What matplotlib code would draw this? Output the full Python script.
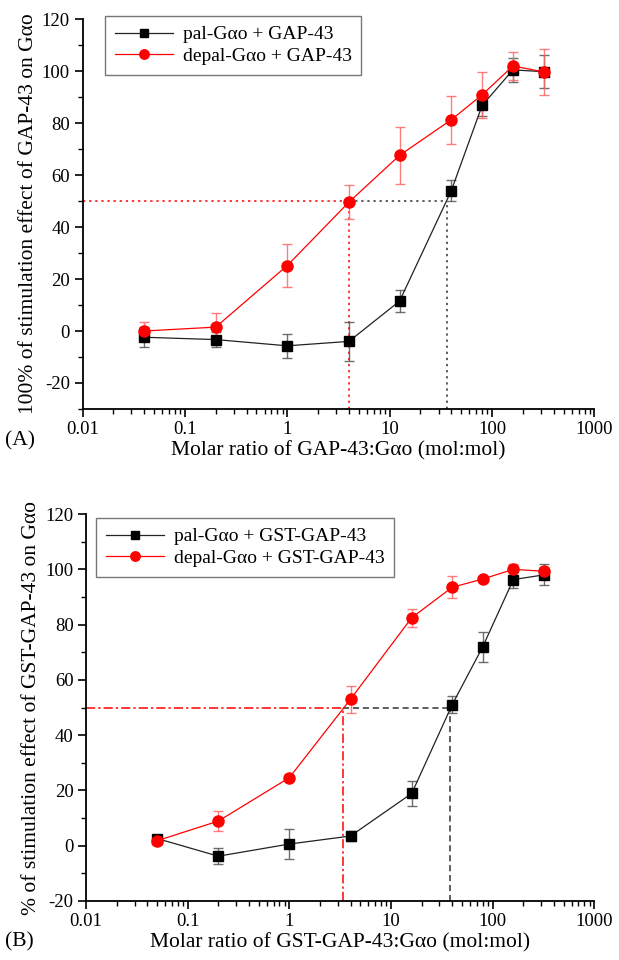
import matplotlib
matplotlib.use("Agg")
import matplotlib.pyplot as plt
from matplotlib.ticker import LogLocator, NullFormatter, MultipleLocator, FixedLocator, FixedFormatter

plt.rcParams['font.family'] = ['Liberation Serif', 'DejaVu Serif']
plt.rcParams['axes.unicode_minus'] = False

# ---------------- Panel A data ----------------
xA = [0.04, 0.2, 1, 4, 12.5, 40, 80, 160, 320]
palA = [-2.4, -3.3, -5.7, -4.0, 11.5, 54.0, 86.8, 100.5, 99.8]
palA_err = [3.8, 3.0, 4.6, 7.6, 4.2, 4.0, 4.0, 4.6, 6.3]
depalA = [0.0, 1.5, 25.2, 49.6, 67.6, 81.3, 90.9, 102.0, 99.7]
depalA_err = [3.4, 5.3, 8.2, 6.4, 10.9, 9.3, 8.8, 5.5, 9.0]
halfA_depal_x = 4.0
halfA_pal_x = 36.0
half_y = 50

# ---------------- Panel B data ----------------
xB = [0.05, 0.2, 1, 4, 16, 40, 80, 160, 320]
palB = [2.6, -3.8, 0.6, 3.5, 18.9, 51.0, 72.0, 96.3, 98.0]
palB_err = [1.0, 3.0, 5.3, 1.8, 4.5, 3.0, 5.4, 2.9, 3.8]
depalB = [1.8, 8.9, 24.6, 53.0, 82.5, 93.5, 96.5, 100.0, 99.3]
depalB_err = [1.7, 3.6, 1.0, 4.9, 3.2, 4.0, 1.0, 2.0, 1.5]
halfB_depal_x = 3.4
halfB_pal_x = 38.3

xticks = [0.01, 0.1, 1, 10, 100, 1000]
xticklabels = ['0.01', '0.1', '1', '10', '100', '1000']
yticks = [-20, 0, 20, 40, 60, 80, 100, 120]

fig = plt.figure(figsize=(6.19, 9.6), dpi=100)
axA = fig.add_axes([0.1333, 0.574, 0.827, 0.406])
axB = fig.add_axes([0.139, 0.0615, 0.821, 0.403])

BLACK_LINE = '#222222'
RED = '#ff0000'
LABEL_FS = 15.5
TICK_FS = 13.5
LEG_FS = 14


def style(ax, ylim):
    ax.set_xscale('log')
    ax.set_xlim(0.01, 1000)
    ax.set_ylim(*ylim)
    for s in ['top', 'right']:
        ax.spines[s].set_visible(False)
    for s in ['left', 'bottom']:
        ax.spines[s].set_linewidth(1.3)
    ax.xaxis.set_major_locator(FixedLocator(xticks))
    ax.xaxis.set_major_formatter(FixedFormatter(xticklabels))
    ax.xaxis.set_minor_locator(LogLocator(base=10, subs=range(2, 10), numticks=20))
    ax.xaxis.set_minor_formatter(NullFormatter())
    ax.yaxis.set_major_locator(FixedLocator(yticks))
    ax.yaxis.set_minor_locator(MultipleLocator(10))
    ax.tick_params(which='major', direction='out', length=6, width=1.2, labelsize=TICK_FS, pad=3)
    ax.tick_params(which='minor', direction='out', length=3.5, width=1.0)


def draw(ax, x, pal, pal_err, depal, depal_err, lab1, lab2):
    ax.errorbar(x, pal, yerr=pal_err, fmt='none', ecolor='#555555', elinewidth=1.0,
                capsize=3.5, capthick=1.0, alpha=0.85, zorder=3)
    ax.errorbar(x, depal, yerr=depal_err, fmt='none', ecolor='#ff6666', elinewidth=1.0,
                capsize=3.5, capthick=1.0, alpha=0.85, zorder=3)
    ax.plot(x, pal, color=BLACK_LINE, lw=0.9, marker='s', ms=7, mfc='black', mec='black',
            label=lab1, zorder=4)
    ax.plot(x, depal, color=RED, lw=0.9, marker='o', ms=8, mfc=RED, mec=RED,
            label=lab2, zorder=5)


def legend(ax, anchor):
    leg = ax.legend(loc='upper left', bbox_to_anchor=anchor, bbox_transform=fig.transFigure,
                    borderaxespad=0, fontsize=LEG_FS, frameon=True, fancybox=False,
                    edgecolor='#555555', handlelength=3.0, handletextpad=0.5,
                    borderpad=0.5, labelspacing=0.2, markerscale=0.85)
    leg.get_frame().set_linewidth(1.0)
    return leg


# ---- Panel A ----
style(axA, (-30, 120))
draw(axA, xA, palA, palA_err, depalA, depalA_err,
     'pal-Gαo + GAP-43', 'depal-Gαo + GAP-43')
axA.plot([0.01, halfA_depal_x], [half_y, half_y], color=RED, ls=(0, (1.5, 2.5)), lw=1.1, zorder=2)
axA.plot([halfA_depal_x, halfA_depal_x], [-30, half_y], color=RED, ls=(0, (1.5, 2.5)), lw=1.1, zorder=2)
axA.plot([halfA_depal_x, halfA_pal_x], [half_y, half_y], color='#333333', ls=(0, (1.5, 2.5)), lw=1.1, zorder=2)
axA.plot([halfA_pal_x, halfA_pal_x], [-30, half_y], color='#333333', ls=(0, (1.5, 2.5)), lw=1.1, zorder=2)
axA.set_ylabel('100% of stimulation effect of GAP-43 on Gαo', fontsize=LABEL_FS, labelpad=3)
axA.set_xlabel('Molar ratio of GAP-43:Gαo (mol:mol)', fontsize=LABEL_FS, labelpad=2)
legend(axA, (0.1696, 0.9833))
fig.text(0.008, 0.541, '(A)', fontsize=LABEL_FS, ha='left', va='center')

# ---- Panel B ----
style(axB, (-20, 120))
draw(axB, xB, palB, palB_err, depalB, depalB_err,
     'pal-Gαo + GST-GAP-43', 'depal-Gαo + GST-GAP-43')
axB.plot([0.01, halfB_depal_x], [half_y, half_y], color=RED, ls=(0, (6, 2, 1.5, 2)), lw=1.1, zorder=2)
axB.plot([halfB_depal_x, halfB_depal_x], [-20, half_y], color=RED, ls=(0, (6, 2, 1.5, 2)), lw=1.1, zorder=2)
axB.plot([halfB_depal_x, halfB_pal_x], [half_y, half_y], color='#333333', ls=(0, (4, 2.5)), lw=1.1, zorder=2)
axB.plot([halfB_pal_x, halfB_pal_x], [-20, half_y], color='#333333', ls=(0, (4, 2.5)), lw=1.1, zorder=2)
axB.set_ylabel('% of stimulation effect of GST-GAP-43 on Gαo', fontsize=LABEL_FS, labelpad=3)
axB.set_xlabel('Molar ratio of GST-GAP-43:Gαo (mol:mol)', fontsize=LABEL_FS, labelpad=2)
legend(axB, (0.155, 0.4604))
fig.text(0.008, 0.019, '(B)', fontsize=LABEL_FS, ha='left', va='center')

fig.savefig('out.png', dpi=100)
